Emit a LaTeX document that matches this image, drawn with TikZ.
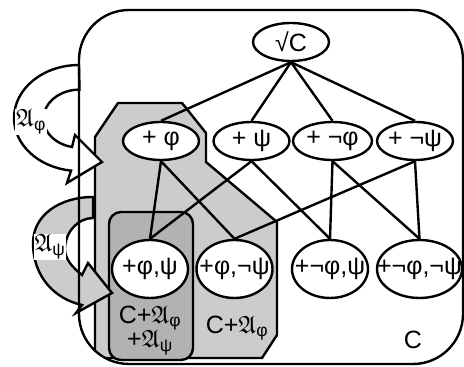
\documentclass[tikz,border=0pt]{standalone}
\usepackage{amsmath,amssymb}
\usepackage{fontspec}
\setmainfont{Liberation Sans}
\usetikzlibrary{shapes.geometric}
\definecolor{lgray}{gray}{0.8}
\definecolor{dgray}{gray}{0.7}
\begin{document}
\begin{tikzpicture}[x=1pt,y=1pt,line width=2.4pt,
  txt/.style={font=\fontsize{25}{29}\selectfont},
  ell/.style={ellipse,draw,fill=white,inner sep=0pt,label={[txt]center:{#1}}},
  topn/.style={ell={#1},minimum width=76pt,minimum height=38pt},
  botn/.style={ell={#1},minimum width=76pt,minimum height=58pt},
  lab/.style={txt,fill=white,inner sep=1pt}]
\useasboundingbox (0,0) rectangle (464,367);
\begin{scope}
\clip[rounded corners=50pt] (79,3) rectangle (463,357);
% gray region C+A_phi
\draw[fill=lgray] (118,264) -- (182,264) -- (206,234) -- (206,205) -- (277,145)
  -- (277,32) -- (262,9) -- (95,9) -- (95,230) -- cycle;
% dark region
\draw[fill=dgray,rounded corners=12pt] (109,7) rectangle (193,155);
\end{scope}
% arrow A_phi
\draw[fill=white] (79,302) arc[start angle=90,end angle=263,x radius=65,y radius=53]
  -- (67,184) -- (102,205) -- (75,232) -- (72,220)
  arc[start angle=258,end angle=90,x radius=36,y radius=29] -- cycle;
% arrow A_psi
\draw[fill=lgray] (93,170) .. controls (60,170) and (33,152) .. (33,124)
  .. controls (33,90) and (55,68) .. (82,62) -- (76,54) -- (112,74) -- (88,104) -- (82,92)
  .. controls (72,100) and (65,108) .. (65,118)
  .. controls (65,135) and (78,149) .. (93,149) -- cycle;
% outer rectangle C
\draw[rounded corners=50pt] (79,3) rectangle (463,357);
% nodes
\node[topn={√C}] (r) at (291,325) {};
\node[topn={+ φ}] (p) at (161,226) {};
\node[topn={+ ψ}] (q) at (251.5,226) {};
\node[topn={+ ¬φ},minimum width=79pt] (np) at (332.5,226) {};
\node[topn={+ ¬ψ}] (nq) at (415,226) {};
\node[botn={+φ,ψ}] (pq) at (150,98) {};
\node[botn={+φ,¬ψ}] (pnq) at (234.5,98) {};
\node[botn={+¬φ,ψ}] (npq) at (330,98) {};
\node[botn={+¬φ,¬ψ},minimum width=85pt] (npnq) at (419.5,98) {};
% edges
\draw (r.south) -- (p.north);
\draw (r.south) -- (q.north);
\draw (r.south) -- (np.north);
\draw (r.south) -- (nq.north);
\draw (p.south) -- (pq.north);
\draw (p.south) -- (pnq.north);
\draw (q.south) -- (pq.north);
\draw (q.south) -- (npq.north);
\draw (np.south) -- (npq.north);
\draw (np.south) -- (npnq.north);
\draw (nq.south) -- (pnq.north);
\draw (nq.south) -- (npnq.north);
% texts
\node[txt] (c) at (413,27) {C};
\node[txt] (ca) at (237,39) {C+$\mathfrak{A}_{\text{φ}}$};
\node[txt] (cab1) at (150,49) {C+$\mathfrak{A}_{\text{φ}}$};
\node[txt] (cab2) at (150,24) {+$\mathfrak{A}_{\text{ψ}}$};
\node[lab] (la) at (31,245) {$\mathfrak{A}_{\text{φ}}$};
\node[lab] (lb) at (50,120) {$\mathfrak{A}_{\text{ψ}}$};
\end{tikzpicture}
\end{document}
